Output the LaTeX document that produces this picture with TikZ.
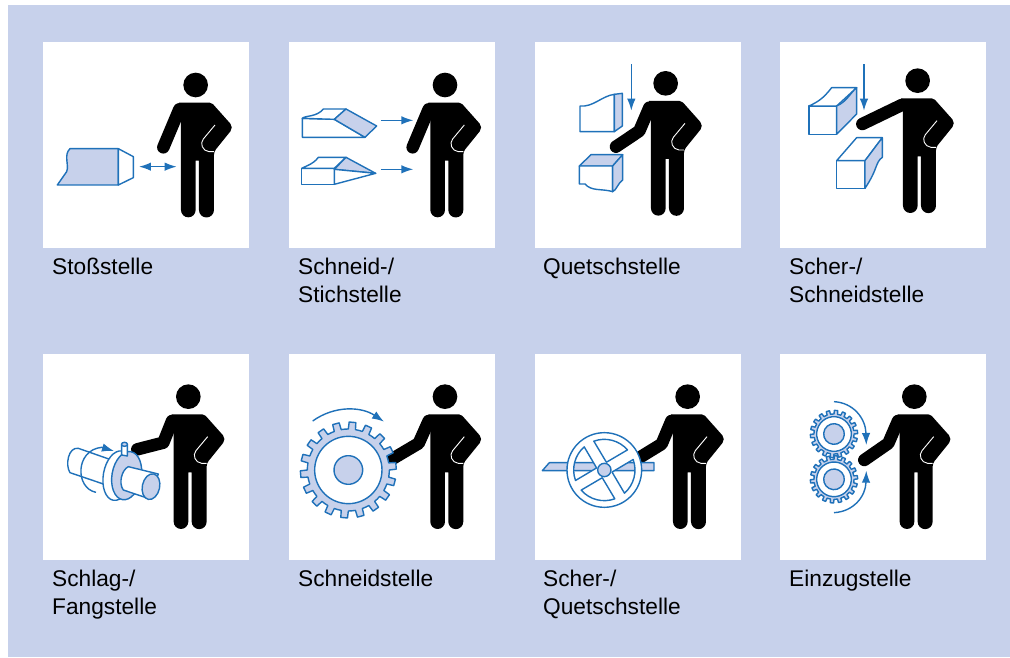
\documentclass[tikz,border=0pt]{standalone}
\usepackage{fontspec}
\setmainfont{Liberation Sans}
\usetikzlibrary{arrows.meta,positioning}
\definecolor{paneblue}{RGB}{199,209,235}
\definecolor{toolblue}{RGB}{31,113,185}
\tikzset{>=Latex}
\tikzstyle{panelbox} = [fill=white,inner sep=0pt,minimum size=206pt]
\tikzstyle{caption} = [anchor=north west,inner sep=0pt,align=left,font=\fontsize{22.7}{28}\selectfont]
\tikzstyle{toolline} = [draw=toolblue,line width=1.4pt,line join=round,fill=white]
\tikzstyle{toolfill} = [draw=toolblue,line width=1.4pt,line join=round,fill=paneblue]
\tikzstyle{toolarrow} = [draw=toolblue,line width=1.4pt,-{Latex[length=12pt,width=8.5pt]}]
\tikzstyle{armline} = [draw=black,line width=12.5pt,line cap=round,line join=round]
% one cell is typed in 3x crop units
\tikzset{cell/.style={shift={(#1)},x=0.3333pt,y=-0.3333pt}}
% head x, head y, arm path
\newcommand{\person}[3]{
  \draw [armline] #3;
  \begin{scope}[shift={(#1,#2)}]
    \fill (0,0) circle (37);
    \fill [rounded corners=2pt] (-50,53) -- (48,53) [rounded corners=5pt] -- (114,127) [rounded corners=3pt] -- (55,200) [sharp corners] -- (55,375)
      arc (0:180:22.5) -- (10,227) -- (0,227) -- (0,375) arc (0:180:22) -- (-44,90) -- cycle;
    \draw [white,line width=0.9pt] (58,120) -- (23,162) .. controls (12,175) and (20,198) .. (40,200) -- (55,200);
  \end{scope}
}
% centre x, centre y, offset, root, tip, ring, hub
\newcommand{\gearwheel}[7]{
  \begin{scope}[shift={(#1,#2)},rotate=#3]
    \draw [toolfill] (0:#4) \foreach \a in {0,20,...,340} { -- ({\a+5}:#4) -- ({\a+6}:#5) -- ({\a+14}:#5) -- ({\a+15}:#4) -- ({\a+20}:#4) } -- cycle;
    \draw [toolline] (0,0) circle (#6);
    \draw [toolfill] (0,0) circle (#7);
  \end{scope}
}

\begin{document}
\begin{tikzpicture}[x=1pt,y=-1pt]
  \useasboundingbox (0,0) rectangle (1010,657);
  \fill [paneblue] (8,5) rectangle (1010,657);

  \node [panelbox] (stoss) at (146,145) {};
  \node [panelbox] (stich) at (392,145) {};
  \node [panelbox] (quetsch) at (638,145) {};
  \node [panelbox] (scher) at (883,145) {};
  \node [panelbox] (schlag) at (146,457) {};
  \node [panelbox] (schneid) at (392,457) {};
  \node [panelbox] (scherq) at (638,457) {};
  \node [panelbox] (einzug) at (883,457) {};

  \node [caption] (stosslabel) at (52,258) {Stoßstelle};
  \node [caption] (stichlabel) at (298,258) {Schneid-/\\Stichstelle};
  \node [caption] (quetschlabel) at (543,258) {Quetschstelle};
  \node [caption] (scherlabel) at (789,258) {Scher-/\\Schneidstelle};
  \node [caption] (schlaglabel) at (52,570) {Schlag-/\\Fangstelle};
  \node [caption] (schneidlabel) at (298,570) {Schneidstelle};
  \node [caption] (scherqlabel) at (543,570) {Scher-/\\Quetschstelle};
  \node [caption] (einzuglabel) at (789,570) {Einzugstelle};

  \begin{scope}[cell={40,40}]
    \person{467}{135}{(418,208) -- (370,322)}
    \draw [toolfill] (52,435) -- (80,395) .. controls (88,375) and (70,345) .. (90,326) -- (235,326) -- (235,435) -- cycle;
    \draw [toolline] (235,326) -- (280,350) -- (280,413) -- (235,435) -- cycle;
    \draw [toolarrow,{Latex[length=12pt,width=8.5pt]}-{Latex[length=12pt,width=8.5pt]}] (297,380) -- (410,380);
  \end{scope}

  \begin{scope}[cell={285,40}]
    \person{480}{135}{(431,208) -- (383,322)}
    \draw [toolline] (52,235) -- (148,238) -- (240,292) -- (52,292) -- cycle;
    \draw [toolline] (52,235) .. controls (60,226) and (95,232) .. (115,207) -- (183,207) -- (148,238) -- cycle;
    \draw [toolfill] (183,207) -- (275,258) -- (240,292) -- (148,238) -- cycle;
    \draw [toolarrow] (288,241) -- (385,241);
    \draw [toolline] (50,385) -- (148,385) -- (148,433) -- (50,433) -- cycle;
    \draw [toolline] (50,385) .. controls (70,375) and (85,372) .. (100,352) -- (183,352) -- (148,385) -- cycle;
    \draw [toolfill] (183,352) -- (272,400) -- (148,388) -- cycle;
    \draw [toolline] (148,433) -- (272,400) -- (148,388) -- cycle;
    \draw [toolarrow] (288,388) -- (385,388);
  \end{scope}

  \begin{scope}[cell={530,40}]
    \person{407}{130}{(358,203) -- (328,273) -- (258,320)}
    \draw [toolline] (150,198) .. controls (190,202) and (215,168) .. (253,163) -- (253,275) -- (150,275) -- cycle;
    \draw [toolfill] (253,163) -- (277,160) -- (277,258) -- (253,275) -- cycle;
    \draw [toolarrow] (304,72) -- (304,212);
    \draw [toolfill] (148,378) -- (183,344) -- (278,344) -- (248,378) -- cycle;
    \draw [toolline] (148,378) -- (248,378) -- (248,455) .. controls (215,445) and (185,455) .. (165,432) -- (148,432) -- cycle;
    \draw [toolfill] (248,378) -- (278,344) -- (278,420) .. controls (262,432) and (260,450) .. (248,455) -- cycle;
  \end{scope}

  \begin{scope}[cell={775,40}]
    \person{428}{122}{(380,195) -- (262,252)}
    \draw [toolline] (102,198) -- (185,198) -- (185,283) -- (102,283) -- cycle;
    \draw [toolline] (102,198) .. controls (130,185) and (145,175) .. (170,143) -- (245,143) -- (185,198) -- cycle;
    \draw [toolfill] (185,198) .. controls (215,185) and (225,160) .. (245,143) -- (245,222) -- (185,283) -- cycle;
    \draw [toolarrow] (267,72) -- (267,212);
    \draw [toolline] (185,362) -- (270,362) -- (270,445) -- (185,445) -- cycle;
    \draw [toolline] (185,362) -- (245,293) -- (322,293) -- (270,362) -- cycle;
    \draw [toolfill] (270,362) -- (322,293) -- (322,352) .. controls (300,368) and (310,385) .. (270,445) -- cycle;
  \end{scope}

  \begin{scope}[cell={40,350}]
    \person{445}{140}{(396,213) -- (370,278) -- (292,298)}
    \draw [toolline] (115,295) -- (215,330) -- (190,402) -- (90,368) .. controls (75,345) and (85,290) .. (115,295);
    \draw [toolarrow] (168,427) .. controls (105,415) and (105,300) .. (185,292) -- (222,303);
    \draw [toolline] (233,377) circle [x radius=43,y radius=75,rotate=-10];
    \draw [toolfill] (260,377) circle [x radius=44,y radius=73,rotate=-10];
    \draw [toolline] (265,350) -- (355,372) -- (330,447) -- (250,420) .. controls (235,400) and (245,360) .. (265,350);
    \draw [toolfill] (333,410) circle [x radius=26,y radius=39,rotate=-12];
    \draw [toolfill,fill=white] (245,285) -- (245,315) -- (262,318) -- (262,285) -- cycle;
    \draw [toolfill] (253.5,283) circle [x radius=9,y radius=6];
  \end{scope}

  \begin{scope}[cell={285,350}]
    \person{480}{140}{(431,213) -- (401,280) -- (325,325)}
    \gearwheel{190}{360}{-5}{123}{144}{101}{43}
    \draw [toolarrow] (83,213) .. controls (150,165) and (230,170) .. (297,215);
  \end{scope}

  \begin{scope}[cell={530,350}]
    \person{473}{140}{(424,213) -- (395,282) -- (325,325)}
    \draw [toolfill] (37,362) -- (58,338) -- (372,338) -- (372,362) -- cycle;
    \draw [toolline] (223,360) circle (112);
    \begin{scope}[shift={(223,360)}]
      \foreach \a in {0,90,180,270} {
        \fill [white] ({\a-75}:24) -- ({\a-41}:92) arc ({\a-41}:{\a-110}:92) -- cycle;
        \begin{scope}
          \clip ({\a-75}:24) -- ({\a-41}:92) arc ({\a-41}:{\a-110}:92) -- cycle;
          \draw [toolfill] (-186,2) -- (-165,-22) -- (149,-22) -- (149,2) -- cycle;
        \end{scope}
        \draw [toolline,fill=none] ({\a-75}:24) -- ({\a-41}:92) arc ({\a-41}:{\a-110}:92) -- cycle;
      }
      \draw [toolfill] (0,0) circle (20);
    \end{scope}
  \end{scope}

  \begin{scope}[cell={775,350}]
    \person{418}{140}{(369,213) -- (340,280) -- (268,330)}
    \gearwheel{177}{252}{-5}{60}{71}{52}{31}
    \gearwheel{177}{388}{-5}{60}{71}{52}{31}
    \draw [toolarrow] (177,155) .. controls (235,158) and (272,205) .. (274,285);
    \draw [toolarrow] (177,488) .. controls (235,485) and (272,440) .. (274,362);
  \end{scope}
\end{tikzpicture}
\end{document}
